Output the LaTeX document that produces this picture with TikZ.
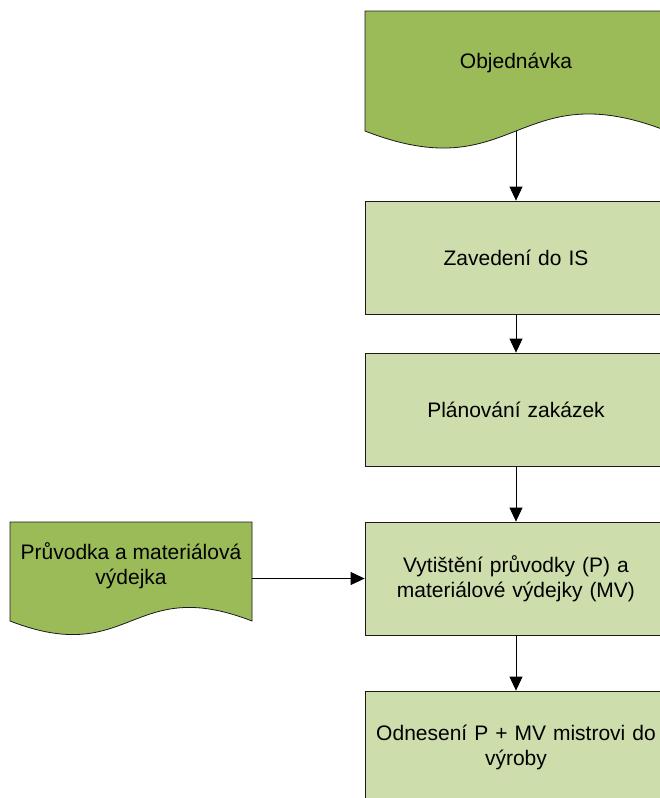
\documentclass[tikz,border=0pt]{standalone}
\usepackage{fontspec}
\setmainfont{Liberation Sans}
\usetikzlibrary{arrows.meta}
\definecolor{docgreen}{HTML}{9BBB59}
\definecolor{procgreen}{HTML}{CEDDAC}
\definecolor{edge}{HTML}{1A1A1A}
\begin{document}
\begin{tikzpicture}[x=1pt,y=-1pt,
  font=\fontsize{21}{25}\selectfont,
  procbox/.style={draw=edge,line width=0.8pt,fill=procgreen,minimum width=302pt,
    minimum height=113pt,inner sep=0pt,align=center,text width=290pt},
  docshape/.style={draw=edge,line width=0.8pt,fill=docgreen},
  doctext/.style={inner sep=0pt,align=center},
  flow/.style={draw=black,line width=0.8pt,-{Triangle[width=13pt,length=14pt]}}]
\useasboundingbox (0,0) rectangle (659,798);

% document shapes with wavy bottom edges
\path[docshape] (365,11) -- (667,11) -- (667,131)
  .. controls (516,72) and (516,190) .. (365,131) -- cycle;
\path[docshape] (10,522) -- (252,522) -- (252,621)
  .. controls (131,574) and (131,668) .. (10,621) -- cycle;

\node[doctext] (obj) at (516,63) {Objednávka};
\coordinate (objwave) at (516,131);
\node[doctext] (prv) at (131,565.5) {Průvodka a materiálová\\výdejka};
\coordinate (prvedge) at (252,578.5);

% process steps
\node[procbox] (zav) at (516,257.5) {Zavedení do IS};
\node[procbox] (plan) at (516,409.5) {Plánování zakázek};
\node[procbox] (vyt) at (516,578.5) {Vytištění průvodky (P) a\\materiálové výdejky (MV)};
\node[procbox] (odn) at (516,747.5) {Odnesení P + MV mistrovi do\\výroby};

% connectors
\draw[flow] (objwave) -- (zav.north);
\draw[flow] (zav.south) -- (plan.north);
\draw[flow] (plan.south) -- (vyt.north);
\draw[flow] (vyt.south) -- (odn.north);
\draw[flow] (prvedge) -- (vyt.west);
\end{tikzpicture}
\end{document}
